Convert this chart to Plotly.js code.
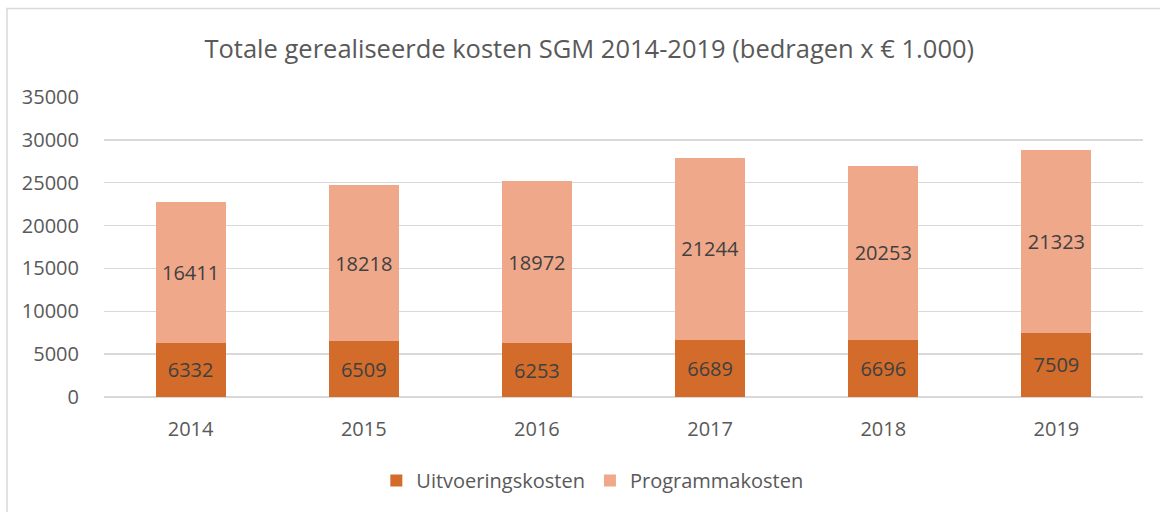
<!DOCTYPE html>
<html>
<head>
<meta charset="utf-8">
<script src="https://cdn.plot.ly/plotly-3.0.1.min.js"></script>
<style>html,body{margin:0;padding:0;background:#fff;}#chart{width:1160px;height:512px;}</style>
</head>
<body>
<div id="chart"></div>
<script>
const years = ["2014", "2015", "2016", "2017", "2018", "2019"];
const uitvoeringskosten = [6332, 6509, 6253, 6689, 6696, 7509];
const programmakosten = [16411, 18218, 18972, 21244, 20253, 21323];
const yTicks = [0, 5000, 10000, 15000, 20000, 25000, 30000, 35000];

const font = "'Open Sans', 'Noto Sans', sans-serif";
const common = {
  type: 'bar',
  x: years,
  textposition: 'inside',
  insidetextanchor: 'middle',
  textfont: {family: font, size: 20, color: '#404040'},
  hoverinfo: 'none',
  width: 0.405
};
const traces = [
  Object.assign({}, common, {
    name: 'Uitvoeringskosten', y: uitvoeringskosten,
    text: uitvoeringskosten.map(String),
    marker: {color: '#D36C2A'}
  }),
  Object.assign({}, common, {
    name: 'Programmakosten', y: programmakosten,
    text: programmakosten.map(String),
    marker: {color: '#F0A88A'}
  })
];
const layout = {
  width: 1160, height: 512,
  barmode: 'stack',
  margin: {l: 104, r: 17, t: 97, b: 113},
  paper_bgcolor: '#ffffff', plot_bgcolor: '#ffffff',
  font: {family: font, color: '#595959', size: 20},
  title: {
    text: 'Totale gerealiseerde kosten SGM 2014-2019 (bedragen x € 1.000)',
    font: {family: font, size: 25.5, color: '#595959'},
    x: 0.508, xanchor: 'center', y: 0.905, yanchor: 'middle'
  },
  xaxis: {
    type: 'category', showgrid: false, zeroline: false, showline: false,
    ticks: 'outside', ticklen: 14, tickcolor: 'rgba(0,0,0,0)',
    tickfont: {size: 20, color: '#595959'}
  },
  yaxis: {
    range: [0, 35000], tickvals: yTicks, ticktext: yTicks.map(String),
    showgrid: true, gridcolor: '#d9d9d9', gridwidth: 1.5,
    zeroline: true, zerolinecolor: '#d9d9d9', zerolinewidth: 1.5,
    showline: false,
    ticks: 'outside', ticklen: 20, tickcolor: 'rgba(0,0,0,0)',
    tickfont: {size: 20, color: '#595959'}
  },
  legend: {
    orientation: 'h', x: 0.47, xanchor: 'center', y: -0.278, yanchor: 'middle',
    font: {size: 20, color: '#595959'}, itemwidth: 30, traceorder: 'normal'
  },
  showlegend: true,
  shapes: [{
    type: 'rect', xref: 'paper', yref: 'paper',
    x0: -0.0934, x1: 1.2, y0: -0.6, y1: 1.2947,
    line: {color: '#d9d9d9', width: 1.5}, fillcolor: 'rgba(0,0,0,0)', layer: 'below'
  }]
};
Plotly.newPlot('chart', traces, layout, {displayModeBar: false, staticPlot: true});
</script>
</body>
</html>
